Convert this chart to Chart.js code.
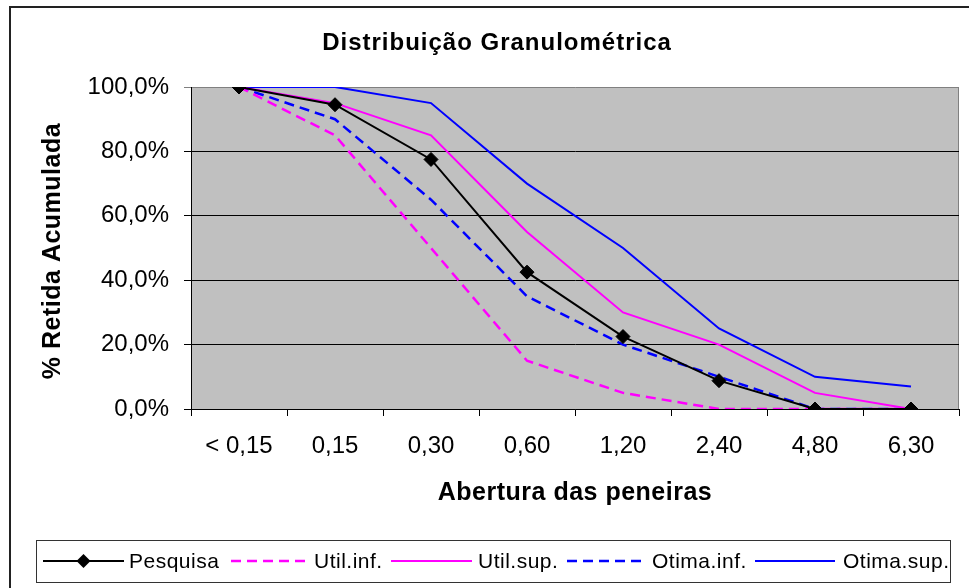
<!DOCTYPE html>
<html>
<head>
<meta charset="utf-8">
<script src="https://cdn.jsdelivr.net/npm/chart.js@4.4.0/dist/chart.umd.min.js"></script>
<style>
html,body{margin:0;padding:0;background:#fff;}
#wrap{width:969px;height:588px;position:relative;}
</style>
</head>
<body>
<div id="wrap"><canvas id="c" width="969" height="588"></canvas></div>
<script>
const categories = ['< 0,15', '0,15', '0,30', '0,60', '1,20', '2,40', '4,80', '6,30'];
const pesquisa  = [100, 94.5, 77.5, 42.5, 22.5, 8.8, 0, 0];
const utilInf   = [100, 85, 50, 15, 5, 0, 0, 0];
const utilSup   = [100, 95, 85, 55, 30, 20, 5, 0];
const otimaInf  = [100, 90, 65, 35, 20, 10, 0, 0];
const otimaSup  = [100, 100, 95, 70, 50, 25, 10, 7];
const yTicks    = [0, 20, 40, 60, 80, 100];
const titleText = 'Distribuição Granulométrica';
const xTitle    = 'Abertura das peneiras';
const yTitle    = '% Retida Acumulada';

const FONT = '"Liberation Sans", Arial, Helvetica, sans-serif';

function fmtPct(v){ return v.toFixed(1).replace('.', ',') + '%'; }

const decor = {
  id: 'decor',
  beforeDraw(chart){
    const ctx = chart.ctx, a = chart.chartArea;
    ctx.save();
    ctx.fillStyle = '#fff';
    ctx.fillRect(0,0,chart.width,chart.height);
    ctx.strokeStyle = '#222';
    ctx.lineWidth = 2;
    ctx.beginPath();
    ctx.moveTo(10, chart.height + 5);
    ctx.lineTo(10, 7);
    ctx.lineTo(chart.width + 5, 7);
    ctx.stroke();
    ctx.fillStyle = '#C0C0C0';
    ctx.fillRect(a.left, a.top, a.right - a.left, a.bottom - a.top);
    ctx.strokeStyle = '#808080';
    ctx.lineWidth = 1;
    ctx.beginPath();
    ctx.moveTo(a.right - 0.5, a.top);
    ctx.lineTo(a.right - 0.5, a.bottom);
    ctx.stroke();
    ctx.restore();
  },
  afterDraw(chart){
    const ctx = chart.ctx, a = chart.chartArea;
    ctx.save();
    ctx.fillStyle = '#000';
    ctx.font = 'bold 24px ' + FONT;
    ctx.textAlign = 'center';
    ctx.textBaseline = 'alphabetic';
    ctx.letterSpacing = '1px';
    ctx.fillText(titleText, 497, 50);
    ctx.font = 'bold 25px ' + FONT;
    ctx.letterSpacing = '0.5px';
    ctx.textBaseline = 'middle';
    ctx.fillText(xTitle, (a.left + a.right) / 2, 493);
    ctx.save();
    ctx.translate(53, (a.top + a.bottom) / 2 + 3);
    ctx.rotate(-Math.PI / 2);
    ctx.fillText(yTitle, 0, 0);
    ctx.restore();
    ctx.letterSpacing = '0px';

    const bx = 36, by = 540, bw = 914, bh = 42;
    ctx.fillStyle = '#fff';
    ctx.fillRect(bx, by, bw, bh);
    ctx.strokeStyle = '#333';
    ctx.lineWidth = 1;
    ctx.strokeRect(bx + 0.5, by + 0.5, bw, bh);
    const cy = by + bh / 2;
    const items = [[43,124,129],[231,311,314],[391,472,478],[567,646,652],[755,835,843]];
    ctx.font = '21px ' + FONT;
    ctx.textAlign = 'left';
    ctx.textBaseline = 'middle';
    chart.data.datasets.forEach((ds, i) => {
      const [x0, x1, tx] = items[i];
      ctx.save();
      ctx.strokeStyle = ds.borderColor;
      ctx.lineWidth = ds.borderWidth;
      ctx.setLineDash(ds.borderDash || []);
      ctx.beginPath();
      ctx.moveTo(x0, cy);
      ctx.lineTo(x1, cy);
      ctx.stroke();
      ctx.restore();
      if (ds.pointRadius > 0) {
        const m = (x0 + x1) / 2, r = ds.pointRadius;
        ctx.fillStyle = ds.pointBackgroundColor;
        ctx.beginPath();
        ctx.moveTo(m, cy - r); ctx.lineTo(m + r, cy); ctx.lineTo(m, cy + r); ctx.lineTo(m - r, cy);
        ctx.closePath(); ctx.fill();
      }
      ctx.fillStyle = '#000';
      ctx.letterSpacing = '0.5px';
      ctx.fillText(ds.label, tx, cy + 1);
      ctx.letterSpacing = '0px';
    });
    ctx.restore();
  }
};

const dashes = [10, 6];
new Chart(document.getElementById('c'), {
  type: 'line',
  data: {
    labels: categories,
    datasets: [
      { label: 'Pesquisa', data: pesquisa, borderColor: '#000000', borderWidth: 2,
        pointStyle: 'rectRot', pointRadius: 7, pointBackgroundColor: '#000', pointBorderColor: '#000', pointBorderWidth: 1, tension: 0 },
      { label: 'Util.inf.', data: utilInf, borderColor: '#FF00FF', borderWidth: 2.5, borderDash: dashes, pointRadius: 0, tension: 0 },
      { label: 'Util.sup.', data: utilSup, borderColor: '#FF00FF', borderWidth: 2, pointRadius: 0, tension: 0 },
      { label: 'Otima.inf.', data: otimaInf, borderColor: '#0000FF', borderWidth: 2.5, borderDash: dashes, pointRadius: 0, tension: 0 },
      { label: 'Otima.sup.', data: otimaSup, borderColor: '#0000FF', borderWidth: 2, pointRadius: 0, tension: 0 }
    ]
  },
  options: {
    responsive: false,
    animation: false,
    events: [],
    layout: { padding: { left: 0, top: 87, right: 10, bottom: 0 } },
    plugins: { legend: { display: false }, title: { display: false }, tooltip: { enabled: false } },
    scales: {
      x: {
        type: 'category',
        offset: true,
        afterFit(s){ s.height = 179; },
        grid: { offset: true, drawOnChartArea: false, drawTicks: true, tickLength: 7, color: '#000', lineWidth: 1 },
        border: { display: true, color: '#000', width: 1 },
        ticks: { color: '#000', font: { family: FONT, size: 24 }, padding: 16, maxRotation: 0, autoSkip: false }
      },
      y: {
        min: 0, max: 100,
        afterFit(s){ s.width = 191; },
        afterBuildTicks(s){ s.ticks = yTicks.map(v => ({ value: v })); },
        grid: { color: ctx => (ctx.tick && ctx.tick.value === 100) ? '#808080' : '#000', tickLength: 7, lineWidth: 1 },
        border: { display: true, color: '#000', width: 1 },
        ticks: { color: '#000', font: { family: FONT, size: 24 }, padding: 15, callback: v => fmtPct(v) }
      }
    }
  },
  plugins: [decor]
});
</script>
</body>
</html>
